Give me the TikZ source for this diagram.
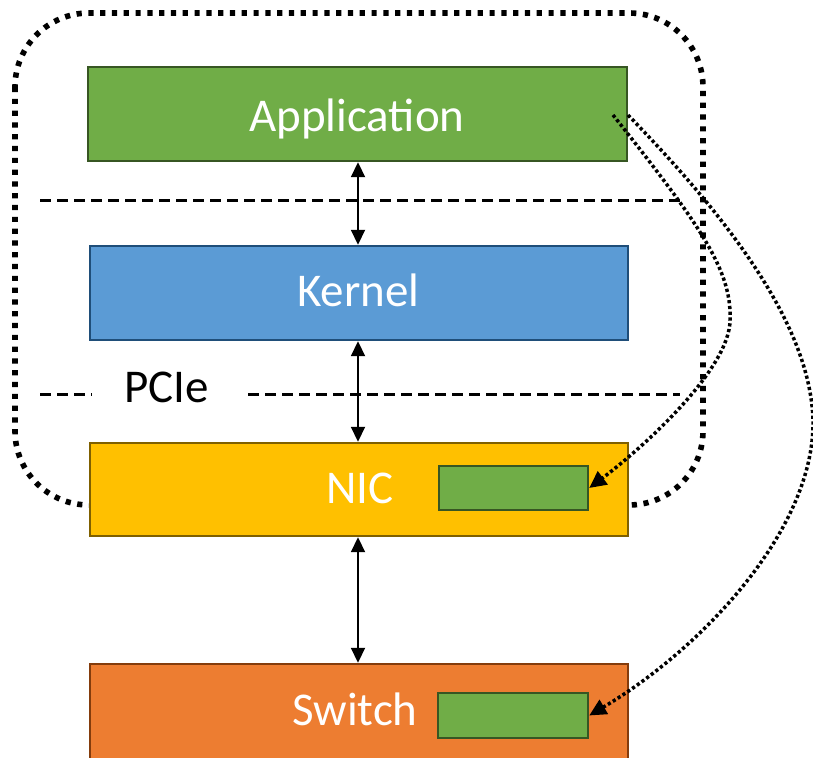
\documentclass[tikz,border=0pt]{standalone}
\usepackage{fontspec}
\setmainfont{Carlito}
\usetikzlibrary{arrows.meta}

\definecolor{appgreen}{HTML}{70AD47}
\definecolor{appgreenline}{HTML}{375623}
\definecolor{kernblue}{HTML}{5B9BD5}
\definecolor{kernblueline}{HTML}{1F4E79}
\definecolor{nicgold}{HTML}{FFC000}
\definecolor{nicgoldline}{HTML}{7F6000}
\definecolor{sworange}{HTML}{ED7D31}
\definecolor{sworangeline}{HTML}{843C0C}

\tikzset{
  layerbox/.style={draw, line width=1.2pt, minimum width=269pt, minimum height=46.5pt,
    inner sep=0pt},
  layertext/.style={text=white, font=\fontsize{23.5}{28}\selectfont, inner sep=0pt, anchor=base},
  offloadbox/.style={draw=appgreenline, fill=appgreen, line width=1.2pt,
    minimum width=74.5pt, minimum height=22pt, inner sep=0pt},
  dividerline/.style={line width=1.5pt, dash pattern=on 5.5pt off 3pt},
  hostoutline/.style={line width=2.8pt, dash pattern=on 2.6pt off 3.3pt},
  linkarrow/.style={line width=0.9pt, {Triangle[length=7.5pt,width=7pt]}-{Triangle[length=7.5pt,width=7pt]}},
  offloadpath/.style={line width=1.75pt, dash pattern=on 1.6pt off 1.3pt,
    -{Triangle[length=8.5pt,width=8pt]}}
}

\begin{document}
\begin{tikzpicture}[x=0.5pt,y=-0.5pt]
  \clip (0,0) rectangle (813,758);

  % host outline (bottom edge hidden behind the NIC)
  \draw[hostoutline, rounded corners=37pt] (15,13) rectangle (703,505);

  % layer boundaries
  \draw[dividerline] (40,201) -- (680,201);
  \draw[dividerline] (40,395) -- (92,395);
  \draw[dividerline] (248,395) -- (680,395);
  \node[font=\fontsize{23.5}{28}\selectfont, inner sep=0pt, anchor=base] (pcie) at (166.5,403) {PCIe};

  % stack
  \node[layerbox, fill=appgreen, draw=appgreenline, minimum width=269.5pt, minimum height=47pt]
    (app) at (357.5,114) {};
  \node[layertext] (apptext) at (357,132) {Application};
  \node[layerbox, fill=kernblue, draw=kernblueline, minimum height=47pt]
    (kernel) at (359,293) {};
  \node[layertext] (kerntext) at (358.5,307) {Kernel};
  \node[layerbox, fill=nicgold, draw=nicgoldline] (nic) at (359,489.5) {};
  \node[layertext] (nictext) at (360,503) {NIC};
  \node[layerbox, fill=sworange, draw=sworangeline, minimum height=48pt] (switch) at (359,712) {};
  \node[layertext] (swtext) at (355,725) {Switch};

  % offloaded application parts
  \node[offloadbox] (nicg) at (513.5,488) {};
  \node[offloadbox, minimum width=75pt, minimum height=22.5pt] (swg) at (513,715.5) {};

  % links between layers
  \draw[linkarrow] (app.south -| 358,0) -- (kernel.north -| 358,0);
  \draw[linkarrow] (kernel.south -| 358,0) -- (nic.north -| 358,0);
  \draw[linkarrow] (nic.south -| 358,0) -- (switch.north -| 358,0);

  % offload paths
  \coordinate (s1) at (613,115);
  \coordinate (s2) at (628,115);
  \coordinate (k1) at (730,320);
  \coordinate (k2) at (813,420);
  \draw[offloadpath] (s1) .. controls (700,225) and (732,270) .. (k1)
               .. controls (730,370) and (640,450) .. (nicg.east);
  \draw[offloadpath] (s2) .. controls (720,210) and (810,320) .. (k2)
               .. controls (815,530) and (700,650) .. (swg.east);
\end{tikzpicture}
\end{document}
